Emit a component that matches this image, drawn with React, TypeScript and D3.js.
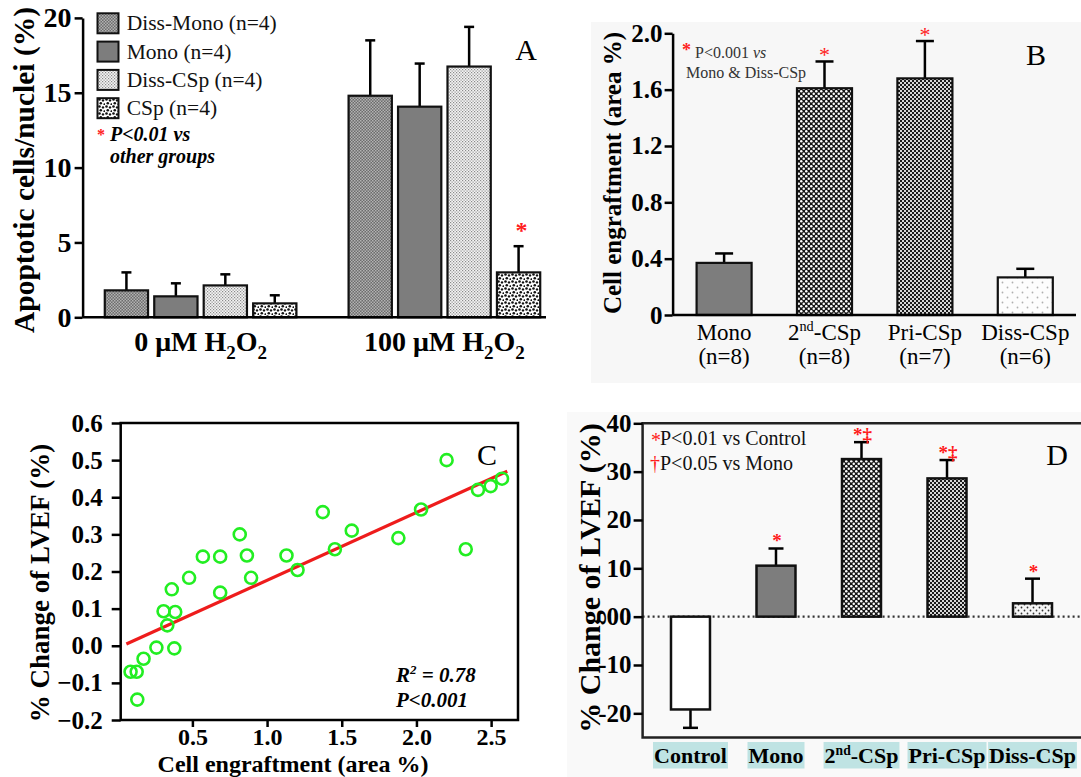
import React, { useEffect, useRef } from 'react'
import * as d3 from 'd3'

const W = 1081
const H = 777
const FONT = "'Liberation Serif', 'Times New Roman', Times, serif"

// panel A - apoptotic cells after H2O2
const doseLabels = ['0 μM H_2O_2', '100 μM H_2O_2']
const cellGroups = ['Diss-Mono (n=4)', 'Mono (n=4)', 'Diss-CSp (n=4)', 'CSp (n=4)']
const apoptosisNoH2O2 = [1.8, 1.4, 2.13, 0.93]
const apoptosisNoH2O2Err = [1.2, 0.87, 0.74, 0.54]
const apoptosisH2O2 = [14.8, 14.07, 16.75, 3.0]
const apoptosisH2O2Err = [3.7, 2.88, 2.65, 1.75]
const apoptosisTicks = [0, 5, 10, 15, 20]

// panel B - engraftment
const engraftGroups = ['Mono', '2^nd-CSp', 'Pri-CSp', 'Diss-CSp']
const engraftN = ['(n=8)', '(n=8)', '(n=7)', '(n=6)']
const engraftment = [0.37, 1.61, 1.68, 0.267]
const engraftmentErr = [0.067, 0.19, 0.265, 0.061]
const engraftSig = [false, true, true, false]
const engraftTicks = [0, 0.4, 0.8, 1.2, 1.6, 2.0]

// panel C - engraftment vs LVEF change
const scatterEngraft = [0.086, 0.127, 0.131, 0.173, 0.259, 0.307, 0.332, 0.362, 0.385, 0.379,
  0.478, 0.57, 0.686, 0.686, 0.817, 0.865, 0.893, 1.13, 1.204, 1.373,
  1.454, 1.567, 1.879, 2.031, 2.202, 2.33, 2.412, 2.497, 2.573]
const scatterLvef = [-0.07, -0.07, -0.145, -0.035, -0.005, 0.093, 0.055, 0.152, 0.091, -0.007,
  0.183, 0.24, 0.24, 0.143, 0.3, 0.243, 0.183, 0.243, 0.204, 0.36,
  0.26, 0.31, 0.29, 0.367, 0.5, 0.26, 0.42, 0.43, 0.45]
const fitSlope = 0.1825
const fitIntercept = -0.006
const fitRange = [0.058, 2.608]
const scatterXTicks = [0.5, 1.0, 1.5, 2.0, 2.5]
const scatterYTicks = [-0.2, -0.1, 0, 0.1, 0.2, 0.3, 0.4, 0.5, 0.6]

// panel D - LVEF change
const lvefGroups = ['Control', 'Mono', '2^nd-CSp', 'Pri-CSp', 'Diss-CSp']
const lvefChange = [-19.2, 10.55, 32.6, 28.6, 2.76]
const lvefErr = [3.8, 3.55, 3.5, 3.8, 5.1]
const lvefMarks = ['', '*', '*‡', '*‡', '*']
const lvefTicks = [-20, -10, 0, 10, 20, 30, 40]

type Sel = d3.Selection<any, any, any, any>

// '_2' -> subscript, '^nd' -> superscript
function rich(text: Sel, label: string, size: number) {
  const parts = label.split(/(_\w|\^\w+)/).filter(Boolean)
  let shift = 0
  parts.forEach((p) => {
    let t = p, target = 0, fs = size
    if (p[0] === '_') { t = p.slice(1); target = size * 0.28; fs = size * 0.68 }
    else if (p[0] === '^') { t = p.slice(1); target = -size * 0.38; fs = size * 0.62 }
    text.append('tspan').attr('dy', target - shift).attr('font-size', fs).text(t)
    shift = target
  })
  return text
}

function styleAxis(ax: Sel, size: number, width = 2.5) {
  ax.attr('font-family', FONT).attr('font-size', size).attr('font-weight', 'bold')
  ax.selectAll('.domain').attr('stroke', '#000').attr('stroke-width', width)
  ax.selectAll('.tick line').attr('stroke', '#000').attr('stroke-width', width)
  ax.selectAll('.tick text').attr('fill', '#000')
}

function makePatterns(defs: Sel) {
  const pat = (id: string, size: number, bg: string) => {
    const p = defs.append('pattern').attr('id', id)
      .attr('patternUnits', 'userSpaceOnUse').attr('width', size).attr('height', size)
    p.append('rect').attr('width', size).attr('height', size).attr('fill', bg)
    return p
  }
  const sq = (p: Sel, x: number, y: number, s: number, c: string) =>
    p.append('rect').attr('x', x).attr('y', y).attr('width', s).attr('height', s).attr('fill', c)
  const dot = (p: Sel, x: number, y: number, r: number, c: string) =>
    p.append('circle').attr('cx', x).attr('cy', y).attr('r', r).attr('fill', c)

  let p = pat('pDissMono', 3, '#6c6c6c')
  sq(p, 0, 0, 1.5, '#b2b2b2'); sq(p, 1.5, 1.5, 1.5, '#b2b2b2')
  p = pat('pDissCSpA', 3, '#f4f4f4')
  sq(p, 0, 0, 1.2, '#8a8a8a'); sq(p, 1.5, 1.5, 1.2, '#8a8a8a')
  p = pat('pCSpA', 7, '#ffffff')
  dot(p, 1.5, 1.5, 1.3, '#111'); dot(p, 5, 2.4, 1.2, '#111'); dot(p, 2.8, 5.2, 1.3, '#111'); dot(p, 6.4, 6.2, 1.0, '#111')
  p = pat('pDense', 5, '#151515')
  dot(p, 1.25, 1.25, 1.25, '#fff'); dot(p, 3.75, 3.75, 1.25, '#fff')
  p = pat('pChecker', 4, '#d6d6d6')
  sq(p, 0, 0, 2, '#1a1a1a'); sq(p, 2, 2, 2, '#1a1a1a')
  p = pat('pSparse', 10, '#fdfdfd')
  dot(p, 2.5, 2.5, 0.9, '#b0b0b0'); dot(p, 7.5, 7.5, 0.9, '#b0b0b0')
  p = pat('pDissD', 6, '#f6f6f6')
  dot(p, 1.5, 1.5, 0.9, '#333'); dot(p, 4.5, 4.5, 0.9, '#333')
}

function errorBar(g: Sel, cx: number, y0: number, y1: number, cap: number) {
  g.append('line').attr('x1', cx).attr('x2', cx).attr('y1', y0).attr('y2', y1)
    .attr('stroke', '#000').attr('stroke-width', 2.5)
  g.append('line').attr('x1', cx - cap / 2).attr('x2', cx + cap / 2).attr('y1', y1).attr('y2', y1)
    .attr('stroke', '#000').attr('stroke-width', 2.5)
}

function drawA(svg: Sel) {
  const g = svg.append('g')
  const y = d3.scaleLinear().domain([0, 20]).range([317.3, 17.9])
  const x0 = d3.scaleBand().domain(doseLabels).range([82.6, 562.4]).paddingInner(0.214).paddingOuter(0.091)
  const x1 = d3.scaleBand().domain(cellGroups).range([0, x0.bandwidth()]).paddingInner(0.125)
  const fills = ['url(#pDissMono)', '#7d7d7d', 'url(#pDissCSpA)', 'url(#pCSpA)']

  const rows = doseLabels.flatMap((d, gi) => cellGroups.map((c, ci) => ({
    d, c, ci,
    v: gi ? apoptosisH2O2[ci] : apoptosisNoH2O2[ci],
    e: gi ? apoptosisH2O2Err[ci] : apoptosisNoH2O2Err[ci],
  })))

  rows.forEach((r) => {
    const cx = (x0(r.d) as number) + (x1(r.c) as number) + x1.bandwidth() / 2
    errorBar(g, cx, y(r.v), y(r.v + r.e), 10)
  })
  g.selectAll('rect.bar').data(rows).join('rect').attr('class', 'bar')
    .attr('x', (r) => (x0(r.d) as number) + (x1(r.c) as number))
    .attr('y', (r) => y(r.v))
    .attr('width', x1.bandwidth())
    .attr('height', (r) => y(0) - y(r.v))
    .attr('fill', (r) => fills[r.ci])
    .attr('stroke', '#111').attr('stroke-width', 2.2)

  // significance mark on CSp under H2O2
  const last = rows[rows.length - 1]
  g.append('text')
    .attr('x', (x0(last.d) as number) + (x1(last.c) as number) + x1.bandwidth() / 2 + 3)
    .attr('y', y(last.v + last.e) - 8)
    .attr('text-anchor', 'middle').attr('font-family', FONT).attr('font-size', 24).attr('font-weight', 'bold')
    .attr('fill', '#ff2020').text('*')

  g.append('line').attr('x1', 82.6).attr('x2', 546).attr('y1', y(0)).attr('y2', y(0))
    .attr('stroke', '#000').attr('stroke-width', 2.5)
  const ay = g.append('g').attr('transform', 'translate(82.6,0)')
    .call(d3.axisLeft(y).tickValues(apoptosisTicks).tickSize(8).tickPadding(3).tickSizeOuter(0))
  styleAxis(ay, 28)

  doseLabels.forEach((d) => {
    const t = g.append('text').attr('x', (x0(d) as number) + x0.bandwidth() / 2).attr('y', 351)
      .attr('text-anchor', 'middle').attr('font-family', FONT).attr('font-weight', 'bold').attr('font-size', 28)
    rich(t, d, 28)
  })

  g.append('text').attr('transform', 'translate(24,170) rotate(-90)')
    .attr('text-anchor', 'middle').attr('dominant-baseline', 'central')
    .attr('font-family', FONT).attr('font-weight', 'bold').attr('font-size', 29.5)
    .text('Apoptotic cells/nuclei (%)')

  // legend
  cellGroups.forEach((c, i) => {
    const yy = 13.3 + 28.3 * i
    g.append('rect').attr('x', 97.5).attr('y', yy).attr('width', 21).attr('height', 20)
      .attr('fill', fills[i]).attr('stroke', '#111').attr('stroke-width', 2)
    g.append('text').attr('x', 126.7).attr('y', yy + 10).attr('dominant-baseline', 'central')
      .attr('font-family', FONT).attr('font-size', 21.5).attr('fill', '#111').text(c)
  })
  g.append('text').attr('x', 97).attr('y', 140).attr('font-family', FONT).attr('font-size', 16)
    .attr('font-weight', 'bold').attr('fill', '#ff2020').text('*')
  g.append('text').attr('x', 110).attr('y', 141).attr('font-family', FONT).attr('font-size', 20)
    .attr('font-weight', 'bold').attr('font-style', 'italic').text('P<0.01 vs')
  g.append('text').attr('x', 110).attr('y', 163).attr('font-family', FONT).attr('font-size', 20)
    .attr('font-weight', 'bold').attr('font-style', 'italic').text('other groups')

  g.append('text').attr('x', 526).attr('y', 60).attr('text-anchor', 'middle')
    .attr('font-family', FONT).attr('font-size', 30).text('A')
}

function drawB(svg: Sel) {
  const g = svg.append('g')
  g.append('rect').attr('x', 591).attr('y', 22).attr('width', 490).attr('height', 361).attr('fill', '#f7f7f7')
  const y = d3.scaleLinear().domain([0, 2]).range([315, 33.3])
  const x = d3.scaleBand().domain(engraftGroups).range([672.6, 1076.8]).paddingInner(0.452).paddingOuter(0.239)
  const fills = ['#7d7d7d', 'url(#pDense)', 'url(#pChecker)', 'url(#pSparse)']

  engraftGroups.forEach((d, i) => {
    const cx = (x(d) as number) + x.bandwidth() / 2
    errorBar(g, cx, y(engraftment[i]), y(engraftment[i] + engraftmentErr[i]), 18)
  })
  g.selectAll('rect.bar').data(engraftGroups).join('rect').attr('class', 'bar')
    .attr('x', (d) => x(d) as number)
    .attr('y', (d, i) => y(engraftment[i]))
    .attr('width', x.bandwidth())
    .attr('height', (d, i) => y(0) - y(engraftment[i]))
    .attr('fill', (d, i) => fills[i])
    .attr('stroke', '#111').attr('stroke-width', 2.2)

  engraftGroups.forEach((d, i) => {
    if (!engraftSig[i]) return
    g.append('text').attr('x', (x(d) as number) + x.bandwidth() / 2).attr('y', y(engraftment[i] + engraftmentErr[i]) + 1)
      .attr('text-anchor', 'middle').attr('font-family', FONT).attr('font-size', 22)
      .attr('fill', '#ff2020').text('*')
  })

  g.append('line').attr('x1', 672.6).attr('x2', 1076).attr('y1', y(0)).attr('y2', y(0))
    .attr('stroke', '#000').attr('stroke-width', 2.5)
  const ay = g.append('g').attr('transform', 'translate(672.6,0)')
    .call(d3.axisLeft(y).tickValues(engraftTicks).tickSize(8).tickPadding(2).tickSizeOuter(0)
      .tickFormat((d) => (+d === 0 ? '0' : d3.format('.1f')(+d))))
  styleAxis(ay, 25)

  engraftGroups.forEach((d, i) => {
    const cx = (x(d) as number) + x.bandwidth() / 2
    const t = g.append('text').attr('x', cx).attr('y', 340).attr('text-anchor', 'middle')
      .attr('font-family', FONT).attr('font-size', 23)
    rich(t, d, 23)
    g.append('text').attr('x', cx).attr('y', 364).attr('text-anchor', 'middle')
      .attr('font-family', FONT).attr('font-size', 23).text(engraftN[i])
  })

  g.append('text').attr('transform', 'translate(612,173) rotate(-90)')
    .attr('text-anchor', 'middle').attr('dominant-baseline', 'central')
    .attr('font-family', FONT).attr('font-weight', 'bold').attr('font-size', 25)
    .text('Cell engraftment (area %)')

  g.append('text').attr('x', 682).attr('y', 56).attr('font-family', FONT).attr('font-size', 18)
    .attr('font-weight', 'bold').attr('fill', '#ff2020').text('*')
  const t1 = g.append('text').attr('x', 695).attr('y', 58).attr('font-family', FONT).attr('font-size', 16).attr('fill', '#333')
  t1.append('tspan').text('P<0.001 ')
  t1.append('tspan').attr('font-style', 'italic').text('vs')
  g.append('text').attr('x', 686).attr('y', 78).attr('font-family', FONT).attr('font-size', 16)
    .attr('fill', '#333').text('Mono & Diss-CSp')

  g.append('text').attr('x', 1036).attr('y', 65).attr('text-anchor', 'middle')
    .attr('font-family', FONT).attr('font-size', 30).text('B')
}

function drawC(svg: Sel) {
  const g = svg.append('g')
  const x = d3.scaleLinear().domain([0.02, 2.68]).range([120.7, 518])
  const y = d3.scaleLinear().domain([-0.2, 0.6]).range([720, 423])

  const ay = g.append('g').attr('transform', 'translate(120.7,0)')
    .call(d3.axisLeft(y).tickValues(scatterYTicks).tickSize(9).tickPadding(9).tickFormat(d3.format('.1f')))
  styleAxis(ay, 25)
  const ax = g.append('g').attr('transform', 'translate(0,720)')
    .call(d3.axisBottom(x).tickValues(scatterXTicks).tickSize(7).tickPadding(1).tickFormat(d3.format('.1f')))
  styleAxis(ax, 24)
  ay.select('.domain').remove()
  ax.select('.domain').remove()
  g.append('rect').attr('x', x.range()[0]).attr('y', y.range()[1])
    .attr('width', x.range()[1] - x.range()[0]).attr('height', y.range()[0] - y.range()[1])
    .attr('fill', 'none').attr('stroke', '#000').attr('stroke-width', 2.5)

  const fit = d3.line<number>().x((d) => x(d)).y((d) => y(fitSlope * d + fitIntercept))
  g.append('path').attr('d', fit(fitRange)).attr('stroke', '#ee1c1c').attr('stroke-width', 3.2).attr('fill', 'none')

  const pts = scatterEngraft.map((v, i) => [v, scatterLvef[i]])
  g.selectAll('circle').data(pts).join('circle')
    .attr('cx', (d) => x(d[0])).attr('cy', (d) => y(d[1])).attr('r', 6)
    .attr('fill', 'none').attr('stroke', '#22ee22').attr('stroke-width', 2.6)

  g.append('text').attr('transform', 'translate(40,583) rotate(-90)')
    .attr('text-anchor', 'middle').attr('dominant-baseline', 'central')
    .attr('font-family', FONT).attr('font-weight', 'bold').attr('font-size', 27)
    .text('% Change of LVEF (%)')
  g.append('text').attr('x', 293).attr('y', 771.5).attr('text-anchor', 'middle')
    .attr('font-family', FONT).attr('font-weight', 'bold').attr('font-size', 24)
    .text('Cell engraftment (area %)')

  const r2 = g.append('text').attr('x', 396).attr('y', 682).attr('font-family', FONT)
    .attr('font-weight', 'bold').attr('font-style', 'italic').attr('font-size', 21)
  rich(r2, 'R^2 = 0.78', 21)
  g.append('text').attr('x', 396).attr('y', 707).attr('font-family', FONT)
    .attr('font-weight', 'bold').attr('font-style', 'italic').attr('font-size', 21).text('P<0.001')

  g.append('text').attr('x', 487).attr('y', 465).attr('text-anchor', 'middle')
    .attr('font-family', FONT).attr('font-size', 30).text('C')
}

function drawD(svg: Sel) {
  const g = svg.append('g')
  g.append('rect').attr('x', 567).attr('y', 412).attr('width', 514).attr('height', 365).attr('fill', '#f9f9f9')
  const y = d3.scaleLinear().domain([-25, 40]).range([737.5, 423.3])
  const x = d3.scaleBand().domain(lvefGroups).range([642.6, 1080.4]).paddingInner(0.544).paddingOuter(0.332)
  const fills = ['#ffffff', '#7d7d7d', 'url(#pDense)', 'url(#pChecker)', 'url(#pDissD)']

  g.append('line').attr('x1', 642.6).attr('x2', W).attr('y1', y(0)).attr('y2', y(0))
    .attr('stroke', '#333').attr('stroke-width', 2.2).attr('stroke-dasharray', '2,3')

  lvefGroups.forEach((d, i) => {
    const cx = (x(d) as number) + x.bandwidth() / 2
    const v = lvefChange[i]
    const tip = v < 0 ? v - lvefErr[i] : v + lvefErr[i]
    errorBar(g, cx, y(v), y(tip), 15)
  })
  g.selectAll('rect.bar').data(lvefGroups).join('rect').attr('class', 'bar')
    .attr('x', (d) => x(d) as number)
    .attr('y', (d, i) => y(Math.max(0, lvefChange[i])))
    .attr('width', x.bandwidth())
    .attr('height', (d, i) => Math.abs(y(lvefChange[i]) - y(0)))
    .attr('fill', (d, i) => fills[i])
    .attr('stroke', '#111').attr('stroke-width', 2.5)

  lvefGroups.forEach((d, i) => {
    if (!lvefMarks[i]) return
    const cx = (x(d) as number) + x.bandwidth() / 2
    g.append('text').attr('x', cx + 1).attr('y', y(lvefChange[i] + lvefErr[i]) - 1)
      .attr('text-anchor', 'middle').attr('font-family', FONT).attr('font-size', 19)
      .attr('font-weight', 'bold').attr('fill', '#ff1a1a').text(lvefMarks[i])
  })

  // frame: top, left, bottom
  g.append('path').attr('d', `M${W},${y.range()[1]}H642.6V${y.range()[0]}H${W}`)
    .attr('fill', 'none').attr('stroke', '#222').attr('stroke-width', 2.5)
  const ay = g.append('g').attr('transform', 'translate(642.6,0)')
    .call(d3.axisLeft(y).tickValues(lvefTicks).tickSize(9).tickPadding(2)
      .tickFormat((d) => (+d === 0 ? '00' : String(d))))
  styleAxis(ay, 25)
  ay.select('.domain').remove()

  lvefGroups.forEach((d) => {
    const cx = (x(d) as number) + x.bandwidth() / 2
    const bg = g.append('rect').attr('fill', '#bfe3e3')
    const t = g.append('text').attr('x', cx).attr('y', 763).attr('text-anchor', 'middle')
      .attr('font-family', FONT).attr('font-weight', 'bold').attr('font-size', 22)
    rich(t, d, 22)
    const bb = (t.node() as SVGTextElement).getBBox()
    bg.attr('x', bb.x - 1).attr('y', 742).attr('width', bb.width + 2).attr('height', 26.5)
  })

  g.append('text').attr('transform', 'translate(589,578) rotate(-90)')
    .attr('text-anchor', 'middle').attr('dominant-baseline', 'central')
    .attr('font-family', FONT).attr('font-weight', 'bold').attr('font-size', 30)
    .text('% Change of LVEF (%)')

  g.append('text').attr('x', 651).attr('y', 447).attr('font-family', FONT).attr('font-size', 20)
    .attr('fill', '#ff1a1a').text('*')
  g.append('text').attr('x', 660).attr('y', 445).attr('font-family', FONT).attr('font-size', 20)
    .attr('fill', '#111').text('P<0.01 vs Control')
  g.append('text').attr('x', 650).attr('y', 470).attr('font-family', FONT).attr('font-size', 20)
    .attr('fill', '#ff1a1a').text('†')
  g.append('text').attr('x', 660).attr('y', 470).attr('font-family', FONT).attr('font-size', 20)
    .attr('fill', '#111').text('P<0.05 vs Mono')

  g.append('text').attr('x', 1057).attr('y', 465).attr('text-anchor', 'middle')
    .attr('font-family', FONT).attr('font-size', 30).text('D')
}

export default function App() {
  const svgRef = useRef<SVGSVGElement>(null)

  useEffect(() => {
    const svg = d3.select(svgRef.current)
    svg.selectAll('*').remove()
    makePatterns(svg.append('defs'))
    drawB(svg)
    drawD(svg)
    drawA(svg)
    drawC(svg)
  }, [])

  return (
    <svg
      ref={svgRef}
      width={W}
      height={H}
      style={{ position: 'absolute', left: 0, top: 0, background: '#fff', display: 'block' }}
    />
  )
}
